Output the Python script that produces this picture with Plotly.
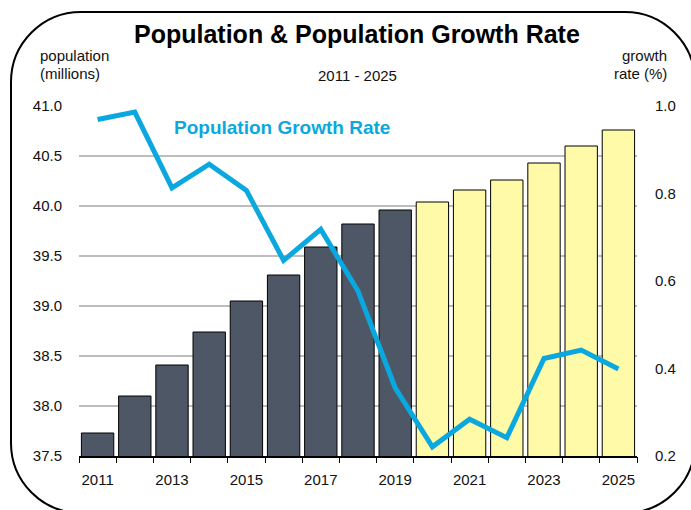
import plotly.graph_objects as go

# ---- data ----
years = [2011, 2012, 2013, 2014, 2015, 2016, 2017, 2018, 2019,
         2020, 2021, 2022, 2023, 2024, 2025]
population = [37.73, 38.10, 38.41, 38.74, 39.05, 39.31, 39.59, 39.82, 39.96,
              40.04, 40.16, 40.26, 40.43, 40.60, 40.76]
growth_rate = [0.969, 0.986, 0.813, 0.867, 0.807, 0.647, 0.718, 0.577, 0.356,
               0.221, 0.284, 0.242, 0.423, 0.442, 0.399]
first_projected_year = 2020
x_tick_labels = [str(y) for y in years[::2]]
x_tick_vals = years[::2]

# ---- layout constants (pixels) ----
W, H = 691, 510
L, R, T, B = 79, 54, 106, 54
PW, PH = W - L - R, H - T - B

def px(x):
    return (x - L) / PW

def py(y):
    return (H - B - y) / PH

FONT = "Liberation Sans, Arial, sans-serif"
DARK = "#4E5766"
YELLOW = "#FFFAA8"
BLUE = "#0AA8DE"
TXT = "#111111"

bar_colors = [DARK if y < first_projected_year else YELLOW for y in years]

fig = go.Figure()
fig.add_trace(go.Bar(
    x=years, y=population, base=0,
    marker=dict(color=bar_colors, line=dict(color="#000000", width=1)),
    width=0.87, showlegend=False, hoverinfo="x+y",
))
fig.add_trace(go.Scatter(
    x=years, y=growth_rate, yaxis="y2", mode="lines",
    line=dict(color=BLUE, width=5), showlegend=False,
))
# invisible trace to activate the boundary-tick axis
fig.add_trace(go.Scatter(x=[years[0]], y=[population[0]], xaxis="x3",
                         mode="markers", marker=dict(opacity=0),
                         showlegend=False, hoverinfo="skip"))

xrange = [years[0] - 0.5, years[-1] + 0.5]
boundaries = [y - 0.5 for y in years] + [years[-1] + 0.5]

fig.update_layout(
    width=W, height=H,
    margin=dict(l=L, r=R, t=T, b=B, autoexpand=False),
    paper_bgcolor="white", plot_bgcolor="white",
    font=dict(family=FONT, size=15, color=TXT),
    showlegend=False,
    xaxis=dict(
        range=xrange, tickvals=x_tick_vals, ticktext=x_tick_labels,
        ticks="", showgrid=False, zeroline=False,
        showline=True, linecolor="#000000", linewidth=1.5,
        ticklabelstandoff=9,
        tickfont=dict(family=FONT, size=15, color=TXT),
    ),
    xaxis3=dict(
        range=xrange, overlaying="x", side="bottom", anchor="y",
        tickvals=boundaries, ticks="outside", ticklen=6, tickwidth=1.2,
        tickcolor="#000000", showticklabels=False, showgrid=False,
        zeroline=False, showline=False,
    ),
    yaxis=dict(
        range=[37.5, 41.0], dtick=0.5, tick0=37.5, tickformat=".1f",
        showgrid=True, gridcolor="#BDBDBD", gridwidth=1.5,
        zeroline=False, showline=False, ticks="",
        ticklabelstandoff=16,
        tickfont=dict(family=FONT, size=15, color=TXT),
    ),
    yaxis2=dict(
        range=[0.2, 1.0], dtick=0.2, tick0=0.2, tickformat=".1f",
        overlaying="y", side="right", showgrid=False, zeroline=False,
        showline=False, ticks="", ticklabelstandoff=17,
        tickfont=dict(family=FONT, size=15, color=TXT),
    ),
    bargap=0.13,
)

ann = [
    dict(text="<b>Population & Population Growth Rate</b>", x=px(357), y=py(34),
         font=dict(family=FONT, size=25, color="#000000"), xanchor="center"),
    dict(text="2011 - 2025", x=px(357), y=py(75), font=dict(family=FONT, size=15),
         xanchor="center"),
    dict(text="population", x=px(38), y=py(55), font=dict(family=FONT, size=15),
         xanchor="left"),
    dict(text="(millions)", x=px(38), y=py(73), font=dict(family=FONT, size=15),
         xanchor="left"),
    dict(text="growth", x=px(669), y=py(55), font=dict(family=FONT, size=15),
         xanchor="right"),
    dict(text="rate (%)", x=px(669), y=py(73), font=dict(family=FONT, size=15),
         xanchor="right"),
    dict(text="<b>Population Growth Rate</b>", x=px(281.5), y=py(127),
         font=dict(family=FONT, size=19, color=BLUE), xanchor="center"),
]
for a in ann:
    a.update(xref="paper", yref="paper", yanchor="middle", showarrow=False)
fig.update_layout(annotations=ann)

# rounded border around the whole chart (pixel coords -> paper)
x0, x1, y0, y1, r = 11, 695, 12, 513, 70
k = 0.5523 * r

def P(x, y):
    return f"{px(x):.5f},{py(y):.5f}"

path = (
    f"M {P(x0 + r, y0)} L {P(x1 - r, y0)} "
    f"C {P(x1 - r + k, y0)} {P(x1, y0 + r - k)} {P(x1, y0 + r)} "
    f"L {P(x1, y1 - r)} "
    f"C {P(x1, y1 - r + k)} {P(x1 - r + k, y1)} {P(x1 - r, y1)} "
    f"L {P(x0 + r, y1)} "
    f"C {P(x0 + r - k, y1)} {P(x0, y1 - r + k)} {P(x0, y1 - r)} "
    f"L {P(x0, y0 + r)} "
    f"C {P(x0, y0 + r - k)} {P(x0 + r - k, y0)} {P(x0 + r, y0)} Z"
)
fig.add_shape(type="path", path=path, xref="paper", yref="paper",
              line=dict(color="#000000", width=2), layer="above")

fig.write_html("out.html", config={"displayModeBar": False},
               post_script="document.body.style.margin='0';")
